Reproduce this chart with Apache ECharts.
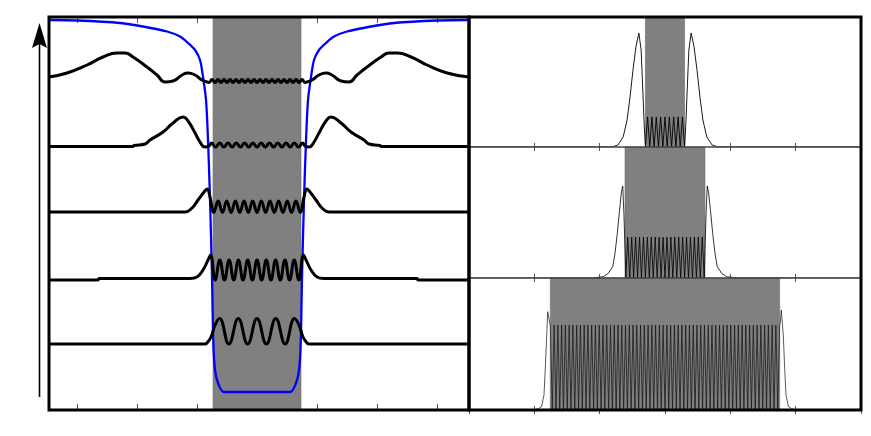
<!DOCTYPE html>
<html><head><meta charset="utf-8">
<script src="https://cdn.jsdelivr.net/npm/echarts@6/dist/echarts.min.js"></script>
<style>html,body{margin:0;padding:0;background:#fff}#c{width:871px;height:436px}</style>
</head><body><div id="c"></div>
<script>
// ---------- data (chart units) ----------
const leftTicks = [-3, -2, -1, 0, 1, 2, 3];
const wellEdges = [-0.733, 0.733];
const boxTop = [-0.3, 0.3];
const boxMid = [-0.612, 0.612];
const boxBot = [-1.755, 1.755];

const bluePotential = [[-3.467,39.0],[-3.0,38.95],[-2.283,38.7],[-1.9,38.35],[-1.5,37.85],[-1.283,37.35],[-1.15,36.7],[-1.033,36.0],[-0.95,35.0],[-0.9,33.3],[-0.85,31.0],[-0.817,27.0],[-0.783,21.0],[-0.75,13.3],[-0.728,6.7],[-0.7,4.0],[-0.65,2.7],[-0.55,1.8],[0,1.8],[0.55,1.8],[0.65,2.7],[0.7,4.0],[0.728,6.7],[0.75,13.3],[0.783,21.0],[0.817,27.0],[0.85,31.0],[0.9,33.3],[0.95,35.0],[1.033,36.0],[1.15,36.7],[1.283,37.35],[1.5,37.85],[1.9,38.35],[2.283,38.7],[3.0,38.95],[3.533,39.0]];

const wave1 = [[-3.467,33.3],[-3.167,33.7],[-2.833,34.5],[-2.567,35.3],[-2.333,35.7],[-2.2,35.7],[-2.067,35.3],[-1.833,34.3],[-1.667,33.5],[-1.533,32.8],[-1.4,32.9],[-1.25,33.5],[-1.15,33.7],[-1.033,33.5],[-0.917,33.0],[-0.833,32.8],
[-0.8,32.75],[-0.75,33.05],[-0.7,32.75],[-0.65,33.05],[-0.6,32.75],[-0.55,33.05],[-0.5,32.75],[-0.45,33.05],[-0.4,32.75],[-0.35,33.05],[-0.3,32.75],[-0.25,33.05],[-0.2,32.75],[-0.15,33.05],[-0.1,32.75],[-0.05,33.05],[0,32.75],[0.05,33.05],[0.1,32.75],[0.15,33.05],[0.2,32.75],[0.25,33.05],[0.3,32.75],[0.35,33.05],[0.4,32.75],[0.45,33.05],[0.5,32.75],[0.55,33.05],[0.6,32.75],[0.65,33.05],[0.7,32.75],[0.75,33.05],[0.8,32.75],
[0.833,32.8],[0.917,33.0],[1.033,33.5],[1.15,33.7],[1.25,33.5],[1.4,32.9],[1.533,32.8],[1.667,33.5],[1.833,34.3],[2.067,35.3],[2.2,35.7],[2.333,35.7],[2.567,35.3],[2.833,34.5],[3.167,33.7],[3.533,33.3]];

const wave2 = [[-3.467,26.35],[-2.067,26.35],[-2.05,26.45],[-1.867,26.6],[-1.783,27.0],[-1.567,27.8],[-1.4,28.7],[-1.233,29.3],[-1.15,28.9],[-1.033,27.7],[-0.95,26.8],[-0.867,26.3],[-0.8,26.4],
[-0.76,26.7],[-0.691,26.3],[-0.622,26.7],[-0.553,26.3],[-0.484,26.7],[-0.415,26.3],[-0.345,26.7],[-0.276,26.3],[-0.207,26.7],[-0.138,26.3],[-0.069,26.7],[0,26.3],[0.069,26.7],[0.138,26.3],[0.207,26.7],[0.276,26.3],[0.345,26.7],[0.415,26.3],[0.484,26.7],[0.553,26.3],[0.622,26.7],[0.691,26.3],[0.76,26.7],
[0.8,26.4],[0.867,26.3],[0.95,26.8],[1.033,27.7],[1.15,28.9],[1.233,29.3],[1.4,28.7],[1.567,27.8],[1.783,27.0],[1.867,26.6],[2.05,26.45],[2.067,26.35],[3.533,26.35]];

const wave3 = [[-3.467,19.8],[-1.2,19.8],[-1.083,20.2],[-0.983,21.0],[-0.883,21.8],[-0.833,22.1],[-0.783,21.3],
[-0.72,19.75],[-0.648,20.9],[-0.576,19.75],[-0.504,20.9],[-0.432,19.75],[-0.36,20.9],[-0.288,19.75],[-0.216,20.9],[-0.144,19.75],[-0.072,20.9],[0,19.75],[0.072,20.9],[0.144,19.75],[0.216,20.9],[0.288,19.75],[0.36,20.9],[0.432,19.75],[0.504,20.9],[0.576,19.75],[0.648,20.9],[0.72,19.75],
[0.783,21.3],[0.833,22.1],[0.883,21.8],[0.983,21.0],[1.083,20.2],[1.2,19.8],[3.533,19.8]];

const wave4 = [[-3.467,13.0],[-2.65,13.0],[-2.633,13.15],[-1.117,13.15],[-1.0,13.3],[-0.9,14.0],[-0.817,15.0],[-0.775,15.5],
[-0.6975,13.0],[-0.62,15.0],[-0.5425,13.0],[-0.465,15.0],[-0.3875,13.0],[-0.31,15.0],[-0.2325,13.0],[-0.155,15.0],[-0.0775,13.0],[0,15.0],[0.0775,13.0],[0.155,15.0],[0.2325,13.0],[0.31,15.0],[0.3875,13.0],[0.465,15.0],[0.5425,13.0],[0.62,15.0],[0.6975,13.0],
[0.775,15.5],[0.817,15.0],[0.9,14.0],[1.0,13.3],[1.117,13.15],[2.667,13.15],[2.683,13.0],[3.533,13.0]];

const wave5 = [[-3.467,6.6],[-0.867,6.6],[-0.833,6.7],[-0.767,7.3],[-0.7,8.5],[-0.625,9.15],[-0.47,6.6],[-0.3125,9.15],[-0.156,6.6],[0,9.15],[0.156,6.6],[0.3125,9.15],[0.47,6.6],[0.625,9.15],[0.7,8.5],[0.767,7.3],[0.833,6.7],[0.867,6.6],[3.533,6.6]];

const stateTop = [[-3,0],[-0.81,0],[-0.72,0.11],[-0.64,0.54],[-0.58,1.45],[-0.535,2.69],[-0.49,4.15],[-0.445,5.39],[-0.4,6.14],[-0.365,5.22],[-0.34,3.07],[-0.318,1.18],[-0.3,0],
[-0.267,1.62],[-0.233,0],[-0.2,1.62],[-0.167,0],[-0.133,1.62],[-0.1,0],[-0.067,1.62],[-0.033,0],[0,1.62],[0.033,0],[0.067,1.62],[0.1,0],[0.133,1.62],[0.167,0],[0.2,1.62],[0.233,0],[0.267,1.62],
[0.3,0],[0.318,1.18],[0.34,3.07],[0.365,5.22],[0.4,6.14],[0.445,5.39],[0.49,4.15],[0.535,2.69],[0.58,1.45],[0.64,0.54],[0.72,0.11],[0.81,0],[3,0]];

const stateMid = [[-3,0],[-1.1,0],[-0.944,0.07],[-0.868,0.25],[-0.8,0.6],[-0.765,1.32],[-0.73,2.39],[-0.7,3.46],[-0.669,4.53],[-0.647,4.92],[-0.628,3.37],[-0.612,1.5],[-0.6,0],
[-0.57,2.19],[-0.54,0],[-0.51,2.19],[-0.48,0],[-0.45,2.19],[-0.42,0],[-0.39,2.19],[-0.36,0],[-0.33,2.19],[-0.3,0],[-0.27,2.19],[-0.24,0],[-0.21,2.19],[-0.18,0],[-0.15,2.19],[-0.12,0],[-0.09,2.19],[-0.06,0],[-0.03,2.19],[0,0],[0.03,2.19],[0.06,0],[0.09,2.19],[0.12,0],[0.15,2.19],[0.18,0],[0.21,2.19],[0.24,0],[0.27,2.19],[0.3,0],[0.33,2.19],[0.36,0],[0.39,2.19],[0.42,0],[0.45,2.19],[0.48,0],[0.51,2.19],[0.54,0],[0.57,2.19],
[0.6,0],[0.612,1.5],[0.628,3.37],[0.647,4.92],[0.669,4.53],[0.7,3.46],[0.73,2.39],[0.765,1.32],[0.8,0.6],[0.868,0.25],[0.944,0.07],[1.1,0],[3,0]];

const stateBot = [[-3,0],[-2.0,0],[-1.94,0.1],[-1.89,0.25],[-1.852,1.14],[-1.832,3.18],[-1.81,5.68],[-1.795,7.45],[-1.78,7.58],[-1.765,6.6],
[-1.755,6.44],[-1.726,0],[-1.697,6.44],[-1.669,0],[-1.640,6.44],[-1.611,0],[-1.582,6.44],[-1.554,0],[-1.525,6.44],[-1.496,0],
[-1.467,6.44],[-1.439,0],[-1.410,6.44],[-1.381,0],[-1.352,6.44],[-1.323,0],[-1.295,6.44],[-1.266,0],[-1.237,6.44],[-1.208,0],
[-1.180,6.44],[-1.151,0],[-1.122,6.44],[-1.093,0],[-1.065,6.44],[-1.036,0],[-1.007,6.44],[-0.978,0],[-0.949,6.44],[-0.921,0],
[-0.892,6.44],[-0.863,0],[-0.834,6.44],[-0.806,0],[-0.777,6.44],[-0.748,0],[-0.719,6.44],[-0.691,0],[-0.662,6.44],[-0.633,0],
[-0.604,6.44],[-0.575,0],[-0.547,6.44],[-0.518,0],[-0.489,6.44],[-0.460,0],[-0.432,6.44],[-0.403,0],[-0.374,6.44],[-0.345,0],
[-0.317,6.44],[-0.288,0],[-0.259,6.44],[-0.230,0],[-0.201,6.44],[-0.173,0],[-0.144,6.44],[-0.115,0],[-0.086,6.44],[-0.058,0],
[-0.029,6.44],[0,0],[0.029,6.44],[0.058,0],[0.086,6.44],[0.115,0],[0.144,6.44],[0.173,0],[0.201,6.44],[0.230,0],
[0.259,6.44],[0.288,0],[0.317,6.44],[0.345,0],[0.374,6.44],[0.403,0],[0.432,6.44],[0.460,0],[0.489,6.44],[0.518,0],
[0.547,6.44],[0.575,0],[0.604,6.44],[0.633,0],[0.662,6.44],[0.691,0],[0.719,6.44],[0.748,0],[0.777,6.44],[0.806,0],
[0.834,6.44],[0.863,0],[0.892,6.44],[0.921,0],[0.949,6.44],[0.978,0],[1.007,6.44],[1.036,0],[1.065,6.44],[1.093,0],
[1.122,6.44],[1.151,0],[1.180,6.44],[1.208,0],[1.237,6.44],[1.266,0],[1.295,6.44],[1.323,0],[1.352,6.44],[1.381,0],
[1.410,6.44],[1.439,0],[1.467,6.44],[1.496,0],[1.525,6.44],[1.554,0],[1.582,6.44],[1.611,0],[1.640,6.44],[1.669,0],
[1.697,6.44],[1.726,0],[1.755,6.44],
[1.765,6.6],[1.78,7.58],[1.795,7.45],[1.81,5.68],[1.832,3.18],[1.852,1.14],[1.89,0.25],[1.94,0.1],[2.0,0],[3,0]];

// ---------- chart ----------
const chart = echarts.init(document.getElementById('c'), null, {renderer: 'canvas'});
const tick = {show: true, inside: true, length: 5, lineStyle: {color: '#555', width: 1}};
function xAx(grid, pos, extra) {
  return Object.assign({type: 'value', gridIndex: grid, position: pos, axisLine: {show: false},
    axisLabel: {show: false}, splitLine: {show: false}, axisTick: tick}, extra);
}
function yAx(grid, pos, extra) {
  return Object.assign({type: 'value', gridIndex: grid, position: pos, axisLine: {show: false},
    axisLabel: {show: false}, splitLine: {show: false}, axisTick: Object.assign({}, tick, {length: 4})}, extra);
}
const leftX = {min: -3.467, max: 3.533, axisTick: Object.assign({}, tick, {length: 6, customValues: leftTicks})};
const rightX = {min: -3, max: 3, interval: 1, axisTick: Object.assign({}, tick, {length: 4})};

const xAxis = [
  xAx(0, 'bottom', leftX), xAx(0, 'top', leftX),
  xAx(1, 'bottom', rightX), xAx(1, 'top', rightX),
  xAx(2, 'bottom', rightX), xAx(2, 'top', rightX),
  xAx(3, 'bottom', rightX), xAx(3, 'top', rightX),
  {type: 'value', gridIndex: 4, show: false, min: 0, max: 1}
];
const yAxis = [
  yAx(0, 'left', {min: 0, max: 39.3, axisTick: {show: false}}),
  yAx(1, 'left', {min: 0, max: 7, interval: 1}), yAx(1, 'right', {min: 0, max: 7, interval: 1}),
  yAx(2, 'left', {min: 0, max: 7, interval: 1}), yAx(2, 'right', {min: 0, max: 7, interval: 1}),
  yAx(3, 'left', {min: 0, max: 10, interval: 1}), yAx(3, 'right', {min: 0, max: 10, interval: 1}),
  {type: 'value', gridIndex: 4, show: false, min: 0, max: 1}
];

function band(xi, yi, edges) {
  return {type: 'line', xAxisIndex: xi, yAxisIndex: yi, data: [], z: 1, silent: true,
    markArea: {silent: true, itemStyle: {color: '#808080', borderColor: '#6a6a6a', borderWidth: 0.6},
      data: [[{xAxis: edges[0]}, {xAxis: edges[1]}]]}};
}
function curve(xi, yi, data, color, width, smooth) {
  return {type: 'line', xAxisIndex: xi, yAxisIndex: yi, data: data, showSymbol: false, symbol: 'none',
    smooth: smooth, z: 3, silent: true, lineStyle: {color: color, width: width}};
}

chart.setOption({
  animation: false,
  grid: [
    {left: 49, top: 17, width: 420, height: 393, show: true, borderColor: '#000', borderWidth: 3, backgroundColor: 'transparent', z: 10},
    {left: 469, top: 17, width: 392, height: 130, show: true, borderColor: '#444', borderWidth: 1, backgroundColor: 'transparent', z: 5},
    {left: 469, top: 147, width: 392, height: 131, show: true, borderColor: '#444', borderWidth: 1, backgroundColor: 'transparent', z: 5},
    {left: 469, top: 278, width: 392, height: 132, show: true, borderColor: '#444', borderWidth: 1, backgroundColor: 'transparent', z: 5},
    {left: 469, top: 17, width: 392, height: 393, show: true, borderColor: '#000', borderWidth: 3, backgroundColor: 'transparent', z: 10}
  ],
  xAxis: xAxis,
  yAxis: yAxis,
  series: [
    band(0, 0, wellEdges),
    curve(0, 0, bluePotential, '#0000ff', 2.3, 0.3),
    curve(0, 0, wave1, '#000', 3, 0.5),
    curve(0, 0, wave2, '#000', 3, 0.5),
    curve(0, 0, wave3, '#000', 3, 0.45),
    curve(0, 0, wave4, '#000', 3, 0.45),
    curve(0, 0, wave5, '#000', 3, 0.45),
    band(2, 1, boxTop),
    curve(2, 1, stateTop, '#000', 0.9, false),
    band(4, 3, boxMid),
    curve(4, 3, stateMid, '#000', 0.8, false),
    band(6, 5, boxBot),
    curve(6, 5, stateBot, '#111', 0.7, false)
  ],
  graphic: [
    {type: 'line', shape: {x1: 39.5, y1: 397, x2: 39.5, y2: 42}, style: {stroke: '#000', lineWidth: 1.6}, z: 20},
    {type: 'polygon', shape: {points: [[39.5, 23], [47, 48], [39.5, 44], [32, 48]]}, style: {fill: '#000'}, z: 20}
  ]
});
</script>
</body></html>
